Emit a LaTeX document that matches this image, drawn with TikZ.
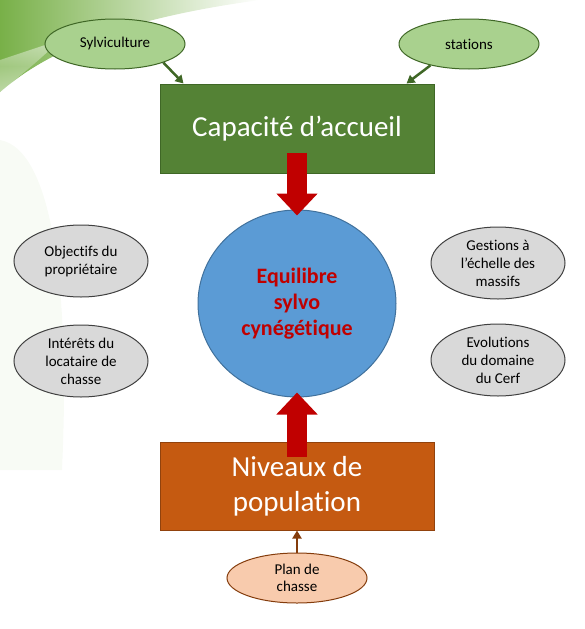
\documentclass[tikz,border=0pt]{standalone}
\usepackage{fontspec}
\setmainfont{Carlito}[Ligatures={NoCommon,NoRare}]
\usepackage{xcolor}
\usepackage{tikz}
\usetikzlibrary{shapes.geometric, arrows.meta, positioning, calc}

\definecolor{boxgreen}{HTML}{548235}
\definecolor{darkgreen}{HTML}{3F6726}
\definecolor{lightgreen}{HTML}{A9D18E}
\definecolor{bigred}{HTML}{C00000}
\definecolor{circblue}{HTML}{5B9BD5}
\definecolor{circedge}{HTML}{41719C}
\definecolor{greyfill}{HTML}{D9D9D9}
\definecolor{boxorange}{HTML}{C55A11}
\definecolor{brownedge}{HTML}{843C0C}
\definecolor{peach}{HTML}{F8CBAD}
\definecolor{leafgreen}{HTML}{78B048}

\begin{document}
\begin{tikzpicture}[
    x=1pt, y=-1pt,
    bigbox/.style={rectangle, draw, line width=1pt, minimum width=274pt, align=center, text=white, font=\fontsize{29}{35}\selectfont},
    factor/.style={ellipse, draw, line width=1pt, inner sep=0pt, align=center, font=\fontsize{15}{18}\selectfont},
    topfactor/.style={factor, fill=lightgreen, draw=darkgreen, minimum width=140pt, minimum height=50pt},
    sidefactor/.style={factor, fill=greyfill, draw=black!75, minimum width=134pt, minimum height=72pt},
    link/.style={-{Triangle[length=8pt,width=9pt]}, line width=2.5pt},
    bigarrow/.style={-{Triangle[length=22pt,width=40pt]}, line width=20pt, draw=bigred}
]
\useasboundingbox (0,0) rectangle (585,629);

% Background leaves
\shade[left color=leafgreen, right color=white] (0,0) -- (260,0) .. controls (150,15) and (60,40) .. (0,92) -- cycle;
\shade[top color=white, bottom color=white, middle color=leafgreen!40, opacity=0.5] (0,60) -- (60,40) .. controls (40,60) and (15,80) .. (0,92) -- cycle;
\fill[leafgreen!15, opacity=0.35] (0,140) .. controls (55,150) and (70,300) .. (62,470) -- (0,470) -- cycle;

% Nodes
\node [bigbox, fill=boxgreen, draw=darkgreen, minimum height=89pt] (cap) at (297,128.5) {Capacité d’accueil};
\node [topfactor] (sylvi) at (115,44) {Sylviculture};
\node [topfactor] (stat) at (469,44) {stations};
\node [ellipse, draw=circedge, fill=circblue, line width=1pt, minimum width=198pt, minimum height=187pt, inner sep=0pt,
       align=center, text=bigred, font=\fontsize{22}{26}\selectfont\bfseries] (equil) at (297,303.5) {Equilibre\\sylvo\\cynégétique};
\node [sidefactor] (proprio) at (81,261) {Objectifs du\\propriétaire};
\node [sidefactor] (locat) at (81,361) {Intérêts du\\locataire de\\chasse};
\node [sidefactor] (massif) at (498,263) {Gestions à\\l’échelle des\\massifs};
\node [sidefactor] (cerf) at (498,360) {Evolutions\\du domaine\\du Cerf};
\node [bigbox, fill=boxorange, draw=brownedge!80!boxorange, minimum height=88pt] (pop) at (297,486) {Niveaux de\\population};
\node [factor, fill=peach, draw=brownedge, minimum width=140pt, minimum height=50pt,
       font=\fontsize{15}{17}\selectfont] (plan) at (297,578) {Plan de\\chasse};

% Small arrows into the boxes
\coordinate (capA) at ($(cap.north west)+(24,0)$);
\coordinate (capB) at ($(cap.north east)+(-28,0)$);
\draw [link, draw=darkgreen] (sylvi.-21) -- (capA);
\draw [link, draw=darkgreen] (stat.209) -- (capB);
\draw [link, draw=brownedge] (plan.north) -- (pop.south);

% Big red arrows
\coordinate (capin) at ($(cap.south)+(0,-21)$);
\coordinate (popin) at ($(pop.north)+(0,15)$);
\draw [bigarrow] (capin) -- ($(equil.north)+(0,6)$);
\draw [bigarrow] (popin) -- ($(equil.south)+(0,-5)$);

\end{tikzpicture}
\end{document}
